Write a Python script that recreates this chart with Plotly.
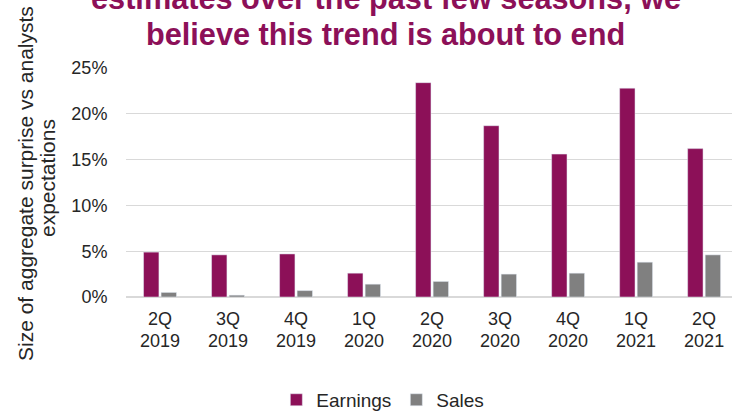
import plotly.graph_objects as go

quarters = ["2Q", "3Q", "4Q", "1Q", "2Q", "3Q", "4Q", "1Q", "2Q"]
years = ["2019", "2019", "2019", "2020", "2020", "2020", "2020", "2021", "2021"]
earnings = [0.049, 0.046, 0.047, 0.026, 0.234, 0.187, 0.156, 0.228, 0.162]
sales = [0.005, 0.002, 0.007, 0.014, 0.017, 0.025, 0.026, 0.038, 0.046]
title_lines = ["estimates over the past few seasons, we", "believe this trend is about to end"]
ytitle_lines = ["Size of aggregate surprise vs analysts", "expectations"]

xpos = list(range(len(quarters)))
font = "Liberation Sans, Arial, sans-serif"
purple = "#8C1058"
txt = "#262626"

fig = go.Figure()
fig.add_trace(go.Bar(x=xpos, y=earnings, name="Earnings", marker_color=purple))
fig.add_trace(go.Bar(x=xpos, y=sales, name="Sales", marker_color="#808080"))

xrange = [-0.5, 8.41]
fig.update_layout(
    width=732, height=411,
    margin=dict(l=126, r=0, t=68, b=114),
    paper_bgcolor="white", plot_bgcolor="white",
    barmode="group", bargap=0.484, bargroupgap=0.123,
    font=dict(family=font, size=18, color=txt),
    showlegend=True,
    legend=dict(orientation="h", xref="container", yref="container",
                x=0.523, xanchor="center", y=0.027, yanchor="middle",
                font=dict(size=19, color=txt), itemwidth=30, tracegroupgap=0),
    xaxis=dict(range=xrange, tickmode="array", tickvals=xpos, ticktext=quarters,
               showgrid=False, showline=False, zeroline=False,
               ticks="outside", ticklen=5, tickcolor="rgba(0,0,0,0)",
               tickfont=dict(size=18, color=txt)),
    xaxis2=dict(range=xrange, overlaying="x", anchor="y", side="bottom",
                tickmode="array", tickvals=xpos, ticktext=years,
                showgrid=False, showline=False, zeroline=False,
                ticks="outside", ticklen=27, tickcolor="rgba(0,0,0,0)",
                tickfont=dict(size=18, color=txt)),
    yaxis=dict(range=[0, 0.25], dtick=0.05, tickformat=".0%", showgrid=True,
               gridcolor="#D9D9D9", gridwidth=1, zeroline=True, zerolinecolor="#D9D9D9",
               ticks="outside", ticklen=14, tickcolor="rgba(0,0,0,0)",
               tickfont=dict(size=18, color=txt)),
)
# invisible trace to activate the second x axis
fig.add_trace(go.Scatter(x=xpos, y=[0] * len(xpos), xaxis="x2", mode="markers",
                         marker=dict(opacity=0), showlegend=False, hoverinfo="skip"))

anns = []
for yv, line in zip([1.3026, 1.1447], title_lines):
    anns.append(dict(text="<b>" + line + "</b>", xref="paper", yref="paper", x=0.429, y=yv,
                     xanchor="center", yanchor="middle", showarrow=False,
                     font=dict(family=font, size=30.7, color=purple)))
for xv, yv, line in zip([25, 47], [184, 178], ytitle_lines):
    anns.append(dict(text=line, xref="paper", yref="paper", x=(xv - 126) / 606, y=(297 - yv) / 229,
                     xanchor="center", yanchor="middle", textangle=-90, showarrow=False,
                     font=dict(family=font, size=21, color=txt)))
fig.update_layout(annotations=anns)
fig.write_html("out.html")
